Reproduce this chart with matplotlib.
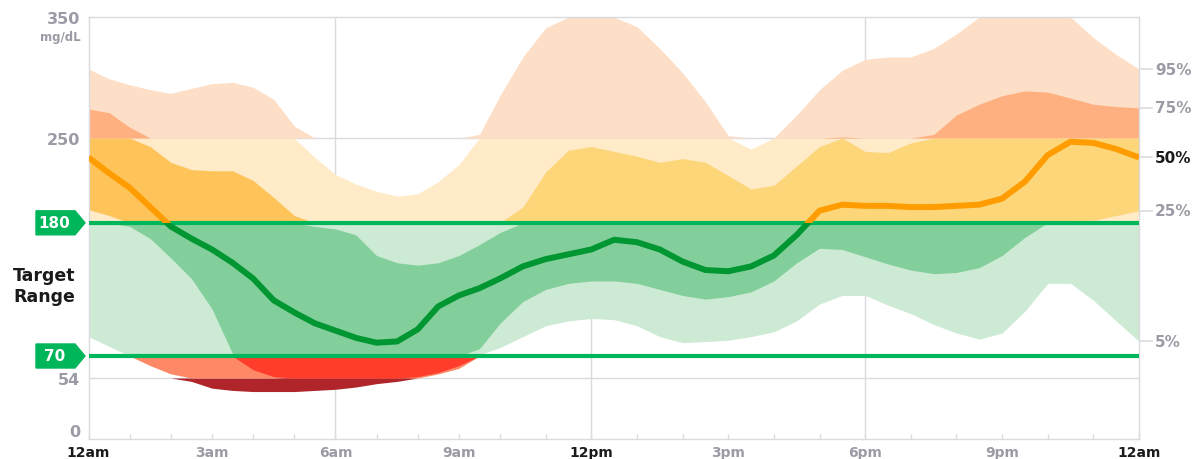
import numpy as np
import matplotlib
matplotlib.use('Agg')
import matplotlib.pyplot as plt
from matplotlib.patches import Polygon, Rectangle
from matplotlib import transforms

# time of day in hours, one reading every half hour
hours = np.arange(0, 24.5, 0.5)

# glucose percentiles (mg/dL)
p5 = [86, 78, 70, 63, 57, 51, 45, 43, 42, 42, 42, 43, 44, 46, 49, 51, 54, 57, 61, 71,
      77, 86, 95, 99, 101, 100, 95, 86, 81, 82, 83, 86, 90, 99, 113, 120, 120, 112, 105, 96,
      89, 84, 89, 107, 130, 130, 116, 99, 82]
p25 = [191, 186, 177, 167, 151, 134, 109, 72, 60, 55, 53, 52, 52, 52, 52, 53, 55, 58, 63, 76,
       97, 115, 125, 130, 132, 132, 130, 125, 120, 117, 119, 123, 132, 147, 159, 158, 152, 146, 141, 138,
       139, 143, 153, 168, 181, 182, 182, 186, 190]
p50 = [234, 221, 209, 193, 177, 167, 158, 147, 134, 116, 106, 97, 91, 85, 81, 82, 92, 111, 120, 126,
       134, 144, 150, 154, 158, 166, 164, 158, 148, 141, 140, 144, 153, 170, 190, 195, 194, 194, 193, 193,
       194, 195, 200, 214, 236, 247, 246, 241, 234]
p75 = [274, 271, 259, 243, 230, 224, 223, 223, 215, 201, 186, 177, 175, 170, 153, 147, 145, 147, 153, 162,
       172, 193, 222, 240, 243, 239, 235, 230, 233, 230, 219, 208, 211, 227, 243, 251, 239, 238, 246, 253,
       269, 278, 285, 289, 288, 283, 278, 276, 275]
p95 = [307, 299, 294, 290, 287, 291, 295, 296, 292, 282, 260, 234, 220, 212, 206, 202, 204, 214, 228, 253,
       285, 317, 341, 352, 365, 358, 342, 324, 304, 280, 252, 241, 250, 269, 290, 306, 315, 317, 317, 324,
       336, 353, 365, 368, 365, 350, 333, 319, 307]

targets = [70, 180]
y_ticks = [0, 54, 250, 350]
x_tick_hours = [0, 3, 6, 9, 12, 15, 18, 21, 24]
x_tick_labels = ['12am', '3am', '6am', '9am', '12pm', '3pm', '6pm', '9pm', '12am']
pct_labels = ['95%', '75%', '50%', '25%', '5%']

GRAY = '#9B9BA6'
DARK = '#1A1A1A'
GRID = '#DADADF'
GREEN = '#00B65A'

# glucose ranges with (outer 5-95%, inner 25-75%) band colours
ranges = [
    (0, 54, '#B0252A', '#B0252A'),
    (54, 70, '#FF8866', '#FF3D2A'),
    (70, 180, '#CDEAD4', '#83CF9B'),
    (180, 250, '#FFEBC8', None),
    (250, 400, '#FDDFC7', '#FFB080'),
]

fig = plt.figure(figsize=(11.95, 4.6), dpi=100)
ax = fig.add_axes([88.5 / 1195, 20 / 460, 1050.5 / 1195, 422 / 460])


# the time axis is a little wider per hour after 10am, the glucose axis a little taller below 70
def fx(h):
    return np.interp(h, [0, 10, 24], [0, 411.5, 1050.5])


def ix(p):
    return np.interp(p, [0, 411.5, 1050.5], [0, 10, 24])


def fy(v):
    return np.interp(v, [0, 54, 70, 350], [0, 61, 83, 422])


def iy(p):
    return np.interp(p, [0, 61, 83, 422], [0, 54, 70, 350])


ax.set_xscale('function', functions=(fx, ix))
ax.set_yscale('function', functions=(fy, iy))
ax.set_xlim(0, 24)
ax.set_ylim(0, 350)

# percentile bands, coloured per glucose range
for lo, hi, outer, inner in ranges:
    ax.fill_between(hours, np.clip(p5, lo, hi), np.clip(p95, lo, hi), color=outer, lw=0, zorder=1)
    if inner:
        ax.fill_between(hours, np.clip(p25, lo, hi), np.clip(p75, lo, hi), color=inner, lw=0, zorder=2)

# 180-250 inner band is a deeper yellow in the morning
lo25, hi75 = np.clip(p25, 180, 250), np.clip(p75, 180, 250)
ax.fill_between(hours, lo25, hi75, where=hours <= 8, color='#FEC45A', lw=0, zorder=2)
ax.fill_between(hours, lo25, hi75, where=hours >= 8, color='#FDD67A', lw=0, zorder=2)

# grid
for v in [54, 250]:
    ax.axhline(v, color=GRID, lw=1, zorder=0)
for h in [6, 12, 18]:
    ax.axvline(h, color=GRID, lw=1, zorder=0)

# target range lines
for t in targets:
    ax.axhline(t, color=GREEN, lw=3, zorder=4)

# median line: orange above range, green in range, red below
for lo, hi, c in [(180, 400, '#FF9C00'), (70, 180, '#009632'), (0, 70, '#E0201B')]:
    line, = ax.plot(hours, p50, color=c, lw=4.3, zorder=5,
                    solid_capstyle='butt', solid_joinstyle='round')
    line.set_clip_path(Rectangle((0, lo), 24, hi - lo, transform=ax.transData))

for s in ax.spines.values():
    s.set_color(GRID)
    s.set_linewidth(1)

# y axis labels
ax.set_yticks(y_ticks)
ax.set_yticklabels([str(v) for v in y_ticks])
ax.tick_params(axis='y', length=0, pad=6, labelsize=11.5, labelcolor=GRAY)
for lab in ax.get_yticklabels():
    lab.set_fontweight('bold')
    if lab.get_text() == '0':
        lab.set_verticalalignment('bottom')

yaxis_tr = ax.get_yaxis_transform()
ax.annotate('mg/dL', xy=(0, 350), xycoords=yaxis_tr, xytext=(-8, -20), textcoords='offset pixels',
            ha='right', va='center', fontsize=8.5, fontweight='bold', color=GRAY)

# x axis labels
ax.set_xticks(x_tick_hours)
ax.set_xticklabels(x_tick_labels)
ax.set_xticks(range(25), minor=True)
ax.tick_params(axis='x', which='both', direction='in', length=3.6, width=1, color=GRID)
ax.tick_params(axis='x', which='major', labelsize=10, pad=4)
for lab in ax.get_xticklabels():
    lab.set_fontweight('bold')
    lab.set_color(DARK if lab.get_text() in ('12am', '12pm') else GRAY)

# green tags for the target limits
for t in targets:
    tr = fig.dpi_scale_trans + transforms.ScaledTranslation(0, t, yaxis_tr)
    verts = [(-0.525, -0.12), (-0.135, -0.12), (-0.035, 0), (-0.135, 0.12), (-0.525, 0.12)]
    ax.add_patch(Polygon(verts, closed=True, transform=tr, color=GREEN, clip_on=False, zorder=6))
    ax.annotate(str(t), xy=(0, t), xycoords=yaxis_tr, xytext=(-34, 0), textcoords='offset pixels',
                ha='center', va='center', color='white', fontsize=11, fontweight='bold', zorder=7)

ax.annotate('Target\nRange', xy=(0, np.mean(targets)), xycoords=yaxis_tr, xytext=(-44, 4),
            textcoords='offset pixels', ha='center', va='center', fontsize=12.5,
            fontweight='bold', color=DARK, linespacing=1.25)

# percentile labels on the right
ends = [p95[-1], p75[-1], p50[-1], p25[-1], p5[-1]]
for lab, v in zip(pct_labels, ends):
    ax.plot([1.002, 1.012], [v, v], transform=yaxis_tr, color=GRID, lw=1.2, clip_on=False)
    ax.annotate(lab, xy=(1, v), xycoords=yaxis_tr, xytext=(16, 0), textcoords='offset pixels',
                ha='left', va='center', fontsize=11, fontweight='bold',
                color=DARK if lab == '50%' else GRAY)

fig.savefig('out.png', dpi=100)
